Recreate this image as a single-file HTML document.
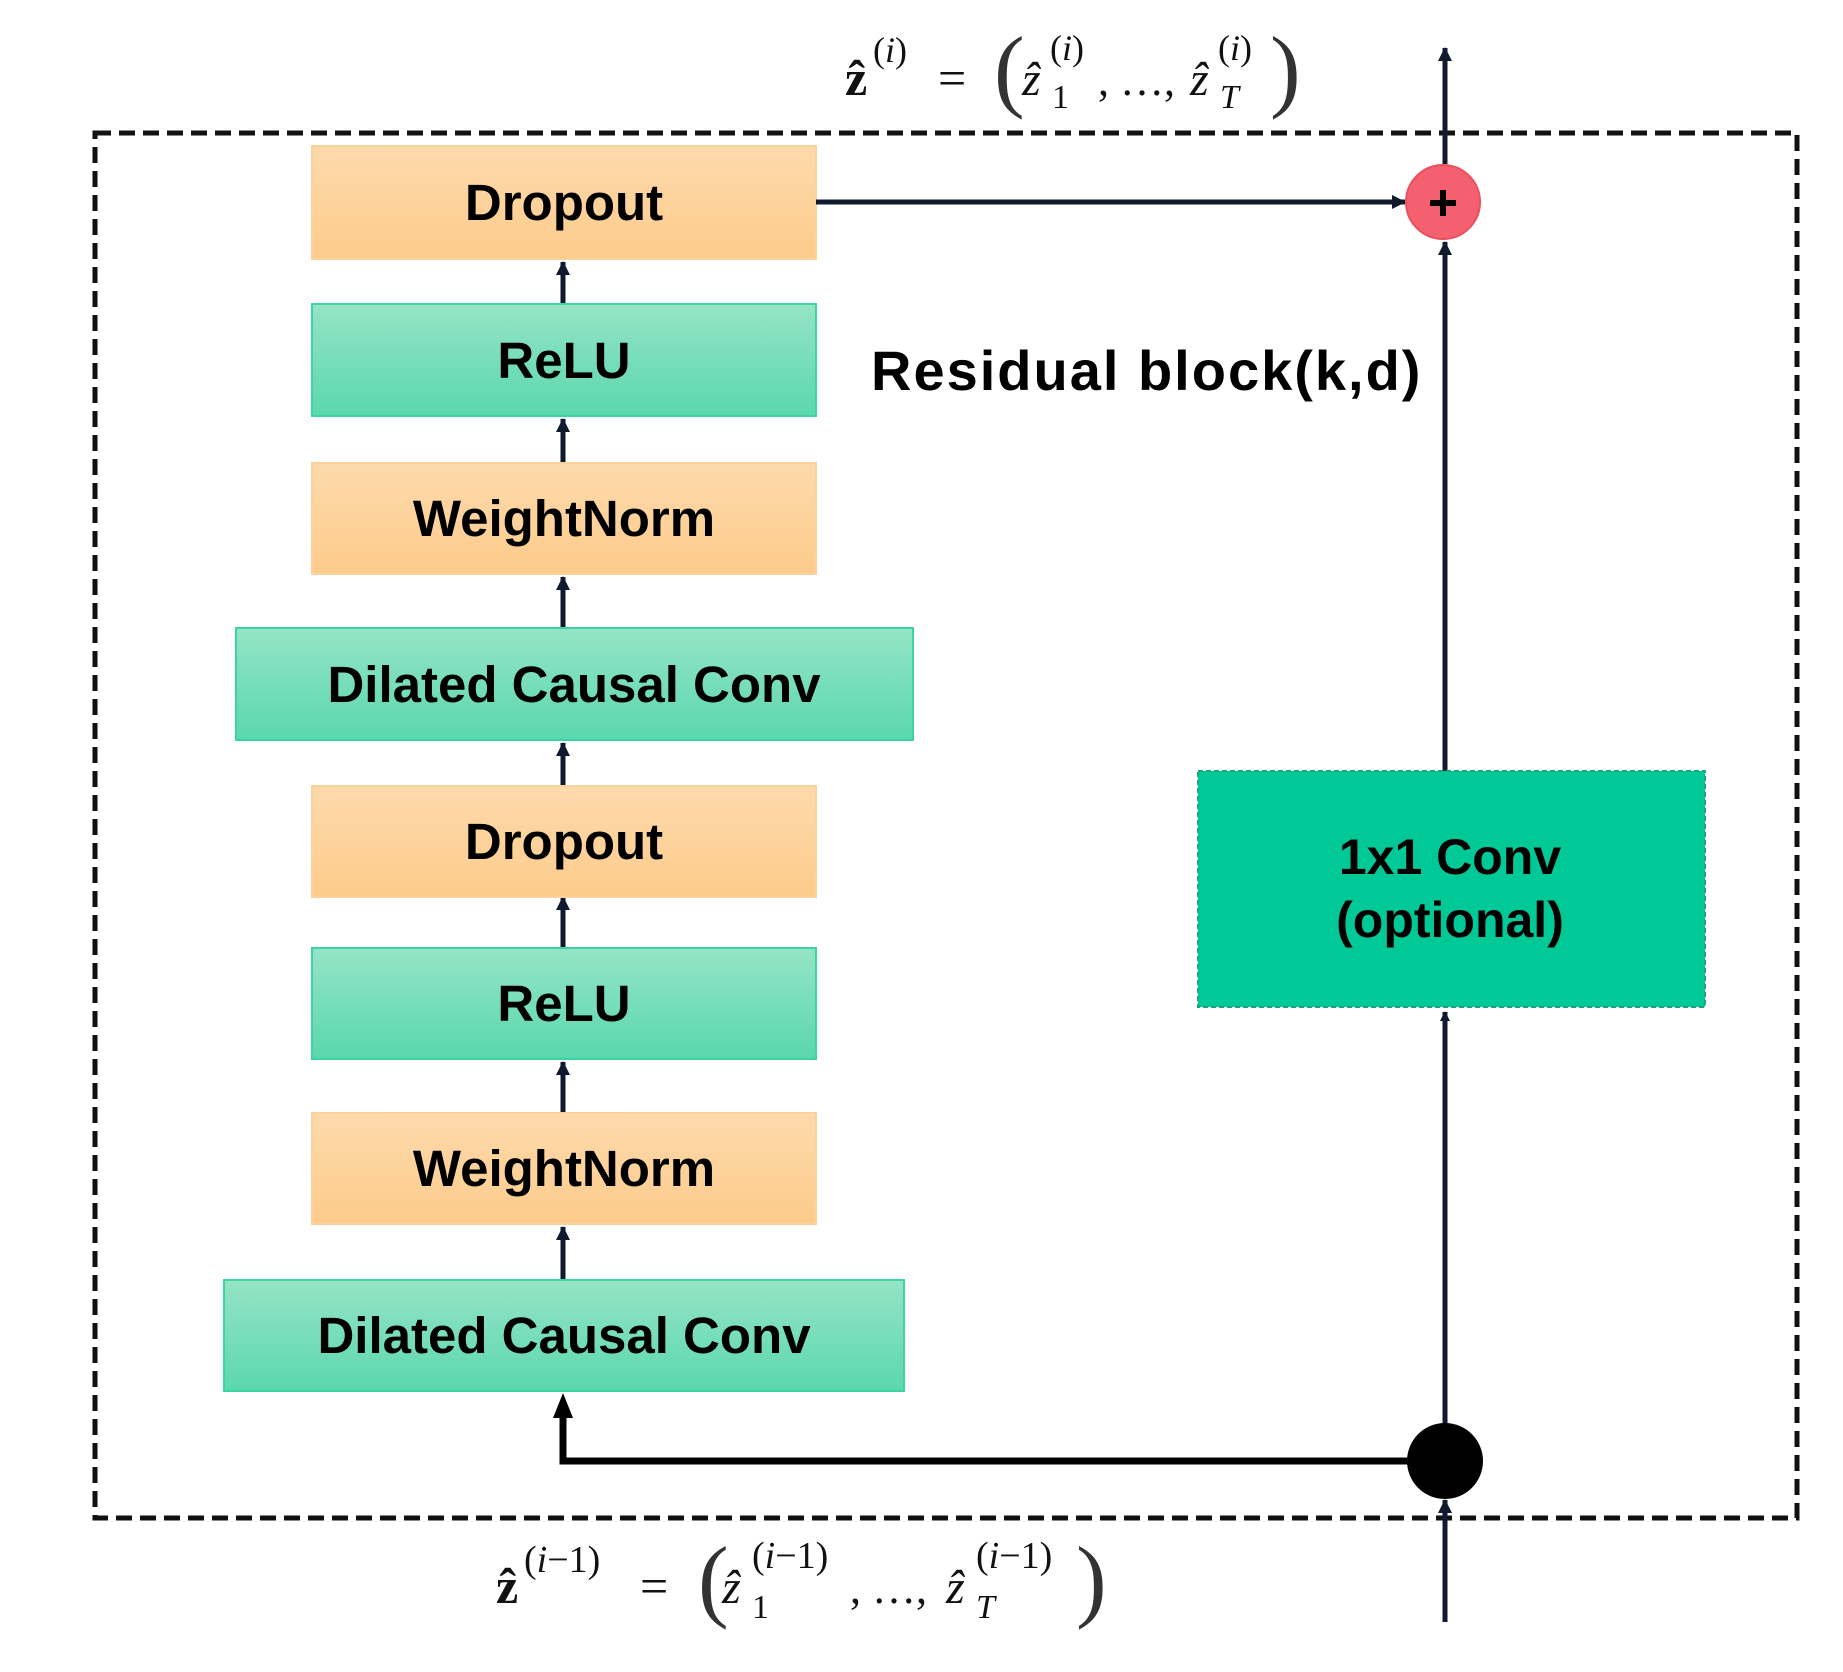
<!DOCTYPE html>
<html><head><meta charset="utf-8"><style>
html,body{margin:0;padding:0;background:#fff;}
svg{display:block;}
.lbl{font-family:"Liberation Sans",Arial,sans-serif;font-weight:bold;fill:#000;}
.m{font-family:"Liberation Serif","DejaVu Serif",serif;fill:#111;}
</style></head><body>
<svg width="1843" height="1672" viewBox="0 0 1843 1672" xmlns="http://www.w3.org/2000/svg">
<defs>
<linearGradient id="og" x1="0" y1="0" x2="0" y2="1"><stop offset="0" stop-color="#fddaac"/><stop offset="1" stop-color="#fdcb8b"/></linearGradient>
<linearGradient id="gg" x1="0" y1="0" x2="0" y2="1"><stop offset="0" stop-color="#95e4c7"/><stop offset="1" stop-color="#5ad7ae"/></linearGradient>
<marker id="ah" markerWidth="10" markerHeight="10" refX="9" refY="5" orient="auto" markerUnits="userSpaceOnUse"><path d="M0,0 L10,5 L0,10 Z" fill="#0f1a2e"/></marker>
<marker id="ahs" markerWidth="14" markerHeight="14" refX="13" refY="7" orient="auto" markerUnits="userSpaceOnUse"><path d="M0,0 L14,7 L0,14 Z" fill="#0f1a2e"/></marker>
</defs>

<rect x="95" y="133" width="1702" height="1385" fill="none" stroke="#111" stroke-width="5" stroke-dasharray="16,8"/>

<g stroke="#0f1a2e" stroke-width="5" fill="none">
<line x1="563" y1="304" x2="563" y2="262" marker-end="url(#ahs)"/>
<line x1="563" y1="463" x2="563" y2="419" marker-end="url(#ahs)"/>
<line x1="563" y1="628" x2="563" y2="577" marker-end="url(#ahs)"/>
<line x1="563" y1="786" x2="563" y2="743" marker-end="url(#ahs)"/>
<line x1="563" y1="948" x2="563" y2="897" marker-end="url(#ahs)"/>
<line x1="563" y1="1113" x2="563" y2="1062" marker-end="url(#ahs)"/>
<line x1="563" y1="1280" x2="563" y2="1227" marker-end="url(#ahs)"/>
</g>

<rect x="312" y="146" width="504" height="113" fill="url(#og)" stroke="#fcd29c" stroke-width="2"/>
<rect x="312" y="304" width="504" height="112" fill="url(#gg)" stroke="#3dd4a4" stroke-width="2"/>
<rect x="312" y="463" width="504" height="111" fill="url(#og)" stroke="#fcd29c" stroke-width="2"/>
<rect x="236" y="628" width="677" height="112" fill="url(#gg)" stroke="#3dd4a4" stroke-width="2"/>
<rect x="312" y="786" width="504" height="111" fill="url(#og)" stroke="#fcd29c" stroke-width="2"/>
<rect x="312" y="948" width="504" height="111" fill="url(#gg)" stroke="#3dd4a4" stroke-width="2"/>
<rect x="312" y="1113" width="504" height="111" fill="url(#og)" stroke="#fcd29c" stroke-width="2"/>
<rect x="224" y="1280" width="680" height="111" fill="url(#gg)" stroke="#3dd4a4" stroke-width="2"/>

<g class="lbl" font-size="51" text-anchor="middle">
<text x="564" y="220">Dropout</text>
<text x="564" y="378">ReLU</text>
<text x="564" y="536">WeightNorm</text>
<text x="574" y="702">Dilated Causal Conv</text>
<text x="564" y="859">Dropout</text>
<text x="564" y="1021">ReLU</text>
<text x="564" y="1186">WeightNorm</text>
<text x="564" y="1353">Dilated Causal Conv</text>
</g>

<text class="lbl" x="871" y="390" font-size="56" letter-spacing="2">Residual block(k,d)</text>

<g stroke="#0f1a2e" stroke-width="5" fill="none">
<line x1="1445" y1="1622" x2="1445" y2="1500" marker-end="url(#ahs)"/>
<line x1="1445" y1="1460" x2="1445" y2="1012" marker-end="url(#ah)"/>
<line x1="1445" y1="771" x2="1445" y2="242" marker-end="url(#ahs)"/>
<line x1="1445" y1="164" x2="1445" y2="48" marker-end="url(#ahs)"/>
<line x1="816" y1="202" x2="1405" y2="202" marker-end="url(#ahs)"/>
</g>
<path d="M1445,1461 L563,1461 L563,1414" stroke="#000" stroke-width="7" fill="none"/>
<path d="M553,1418 L563,1393 L573,1418 Z" fill="#000"/>
<circle cx="1445" cy="1461" r="38" fill="#000"/>

<rect x="1198" y="771" width="507" height="236" fill="#00c896" stroke="#17a87e" stroke-width="2" stroke-dasharray="5,3"/>
<g class="lbl" font-size="50" text-anchor="middle">
<text x="1450" y="874">1x1 Conv</text>
<text x="1450" y="937">(optional)</text>
</g>

<circle cx="1443" cy="202" r="37" fill="#f4606f" stroke="#e8525f" stroke-width="2"/>
<path d="M1430,203 H1456 M1443,190 V216" stroke="#000" stroke-width="6"/>

<g class="m">
<text x="845" y="95" font-size="50" font-weight="bold">ẑ</text>
<text x="873" y="62" font-size="36">(<tspan font-style="italic">i</tspan>)</text>
<text x="938" y="95" font-size="50">=</text>
<text x="994" y="100" font-size="92" fill="#333">(</text>
<text x="1022" y="95" font-size="48" font-style="italic">ẑ</text>
<text x="1050" y="60" font-size="36">(<tspan font-style="italic">i</tspan>)</text>
<text x="1052" y="108" font-size="34">1</text>
<text x="1098" y="95" font-size="44">, …,</text>
<text x="1190" y="95" font-size="48" font-style="italic">ẑ</text>
<text x="1218" y="60" font-size="36">(<tspan font-style="italic">i</tspan>)</text>
<text x="1220" y="108" font-size="34" font-style="italic">T</text>
<text x="1270" y="100" font-size="92" fill="#333">)</text>
</g>

<g class="m">
<text x="496" y="1603" font-size="50" font-weight="bold">ẑ</text>
<text x="524" y="1572" font-size="38">(<tspan font-style="italic">i</tspan>−1)</text>
<text x="640" y="1603" font-size="50">=</text>
<text x="698" y="1610" font-size="92" fill="#333">(</text>
<text x="722" y="1603" font-size="48" font-style="italic">ẑ</text>
<text x="752" y="1568" font-size="38">(<tspan font-style="italic">i</tspan>−1)</text>
<text x="752" y="1618" font-size="34">1</text>
<text x="850" y="1603" font-size="44">, …,</text>
<text x="946" y="1603" font-size="48" font-style="italic">ẑ</text>
<text x="976" y="1568" font-size="38">(<tspan font-style="italic">i</tspan>−1)</text>
<text x="976" y="1618" font-size="34" font-style="italic">T</text>
<text x="1076" y="1610" font-size="92" fill="#333">)</text>
</g>
</svg>
</body></html>
